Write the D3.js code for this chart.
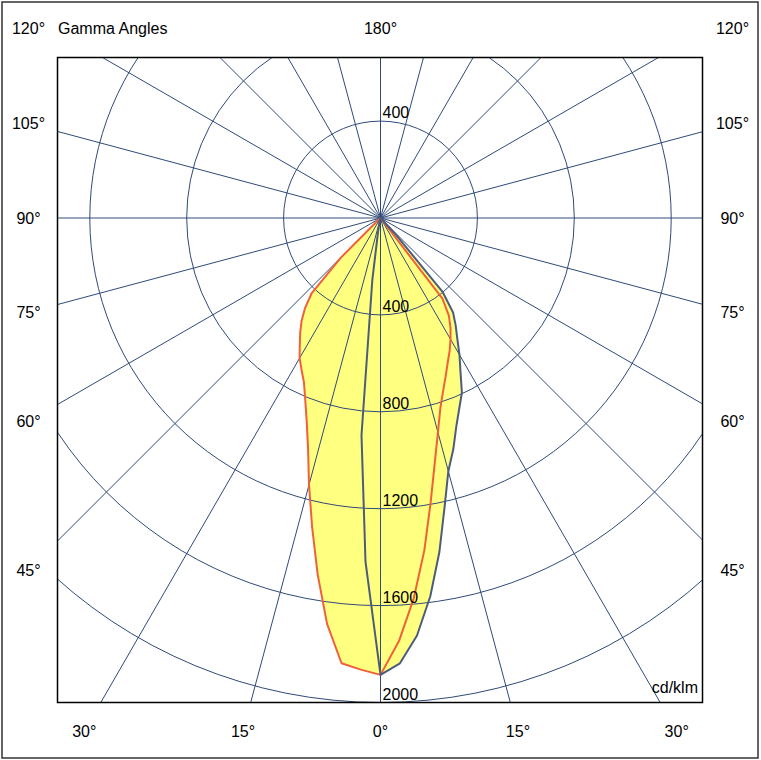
<!DOCTYPE html>
<html>
<head>
<meta charset="utf-8">
<script src="https://cdn.jsdelivr.net/npm/d3@7"></script>
<style>
  body { margin: 0; background: #fff; }
  svg { display: block; }
  text { font-family: "Liberation Sans", Arial, sans-serif; font-size: 16px; fill: #000; }
</style>
</head>
<body>
<svg id="chart" width="761" height="760"></svg>
<script>
// gamma angles (deg from nadir) and intensities (cd/klm) per half plane
const gamma = [0, 2.5, 5, 7.5, 10, 12.5, 15, 17.5, 20, 22.5, 25, 27.5, 30, 32.5, 35, 37.5, 40, 42.5, 45,
               47.5, 50, 52.5, 55, 57.5, 60, 62.5, 65, 67.5, 70, 72.5, 75, 77.5, 80, 82.5, 85, 87.5, 90];
const c0Left  = [1886, 1866, 1845, 1690, 1494, 1305, 1140, 995, 891, 812, 748, 706, 668, 620, 578, 535, 484, 420, 230,
                 8, 5, 4, 3, 3, 2, 2, 2, 1, 1, 1, 1, 1, 0, 0, 0, 0, 0];
const c0Right = [1886, 1748, 1576, 1385, 1192, 1035, 916, 822, 757, 704, 657, 618, 578, 538, 492, 420, 6, 4, 3,
                 2, 2, 2, 1, 1, 1, 1, 1, 1, 1, 0, 0, 0, 0, 0, 0, 0, 0];
const c90Left  = [1886, 1420, 900, 260, 60, 20, 10, 6, 4, 3, 3, 2, 2, 2, 2, 1, 1, 1, 1,
                  1, 1, 1, 1, 0, 0, 0, 0, 0, 0, 0, 0, 0, 0, 0, 0, 0, 0];
const c90Right = [1886, 1840, 1730, 1575, 1400, 1222, 1082, 1000, 915, 850, 795, 715, 652, 590, 541, 492, 400, 100, 4,
                  3, 2, 2, 2, 1, 1, 1, 1, 1, 1, 0, 0, 0, 0, 0, 0, 0, 0];

const ringValues = [400, 800, 1200, 1600, 2000];
const spokeAngles = [0, 15, 30, 45, 60, 75, 90, 105, 120, 135, 150, 165,
                     180, 195, 210, 225, 240, 255, 270, 285, 300, 315, 330, 345];
const sideTicks = [45, 60, 75, 90, 105, 120];
const bottomTicks = [0, 15, 30];
const topTick = 180;

const svg = d3.select("#chart");
const box = { x0: 57, y0: 57, x1: 703, y1: 703 };
const cx = 380.5, cy = 218;
const GRID = "#2f4a7a";
const rad = Math.PI / 180;

const r = d3.scaleLinear().domain([0, 2000]).range([0, 484.5]);

svg.append("rect")
    .attr("x", 2).attr("y", 2).attr("width", 756).attr("height", 756)
    .attr("fill", "#fff").attr("stroke", "#333").attr("stroke-width", 1.5);

svg.append("clipPath").attr("id", "plotClip")
  .append("rect")
    .attr("x", box.x0).attr("y", box.y0)
    .attr("width", box.x1 - box.x0).attr("height", box.y1 - box.y0);

const plot = svg.append("g").attr("clip-path", "url(#plotClip)")
  .append("g").attr("transform", `translate(${cx},${cy})`);

// closed outline: left half from 90 down to 0, then right half from 0 up to 90
function planePoints(left, right) {
    const pts = [];
    for (let i = gamma.length - 1; i >= 0; i--) pts.push([Math.PI + gamma[i] * rad, r(left[i])]);
    for (let i = 1; i < gamma.length; i++) pts.push([Math.PI - gamma[i] * rad, r(right[i])]);
    return pts;
}
const line = d3.lineRadial().angle(d => d[0]).radius(d => d[1]).curve(d3.curveLinearClosed);
const planes = [
    { pts: planePoints(c0Left, c0Right), color: "#f0603a" },
    { pts: planePoints(c90Left, c90Right), color: "#4b5c7c" }
];

plot.selectAll("path.fill")
    .data(planes)
    .join("path")
    .attr("class", "fill")
    .attr("d", d => line(d.pts))
    .attr("fill", "#ffff80")
    .attr("stroke", "none");

plot.selectAll("circle.ring")
    .data(ringValues)
    .join("circle")
    .attr("class", "ring")
    .attr("r", d => r(d))
    .attr("fill", "none")
    .attr("stroke", GRID)
    .attr("stroke-width", 1);

plot.selectAll("line.spoke")
    .data(spokeAngles)
    .join("line")
    .attr("class", "spoke")
    .attr("x1", 0).attr("y1", 0)
    .attr("x2", d => Math.sin(d * rad) * r(3200))
    .attr("y2", d => Math.cos(d * rad) * r(3200))
    .attr("stroke", GRID)
    .attr("stroke-width", 1);

plot.selectAll("path.curve")
    .data(planes)
    .join("path")
    .attr("class", "curve")
    .attr("d", d => line(d.pts))
    .attr("fill", "none")
    .attr("stroke", d => d.color)
    .attr("stroke-width", 2)
    .attr("stroke-linejoin", "round");

// ring labels
plot.selectAll("text.ringLabel")
    .data(ringValues)
    .join("text")
    .attr("class", "ringLabel")
    .attr("x", 2)
    .attr("y", d => r(d) - 3)
    .text(d => d);
plot.append("text")
    .attr("x", 2).attr("y", -r(ringValues[0]) - 3)
    .text(ringValues[0]);

svg.append("rect")
    .attr("x", box.x0 + 0.5).attr("y", box.y0 + 0.5)
    .attr("width", box.x1 - box.x0 - 1).attr("height", box.y1 - box.y0 - 1)
    .attr("fill", "none").attr("stroke", "#000").attr("stroke-width", 1.5);

// angle labels
const sideDx = 352, bottomDy = 513, topY = 28, bottomY = 731;
const labels = [];
sideTicks.forEach(a => {
    const y = Math.max(topY, Math.min(bottomY, cy + sideDx * Math.cos(a * rad) / Math.sin(a * rad)));
    labels.push({ x: cx - sideDx, y, t: a + "°" });
    labels.push({ x: cx + sideDx, y, t: a + "°" });
});
bottomTicks.forEach(a => {
    const dx = bottomDy * Math.tan(a * rad);
    labels.push({ x: cx - dx, y: cy + bottomDy, t: a + "°" });
    if (a > 0) labels.push({ x: cx + dx, y: cy + bottomDy, t: a + "°" });
});
labels.push({ x: cx, y: topY, t: topTick + "°" });

svg.selectAll("text.angle")
    .data(labels)
    .join("text")
    .attr("class", "angle")
    .attr("x", d => d.x).attr("y", d => d.y)
    .attr("dy", "0.36em")
    .attr("text-anchor", "middle")
    .text(d => d.t);

svg.append("text").attr("x", 58).attr("y", topY).attr("dy", "0.36em").text("Gamma Angles");
svg.append("text").attr("x", 698).attr("y", 693).attr("text-anchor", "end").text("cd/klm");
</script>
</body>
</html>
